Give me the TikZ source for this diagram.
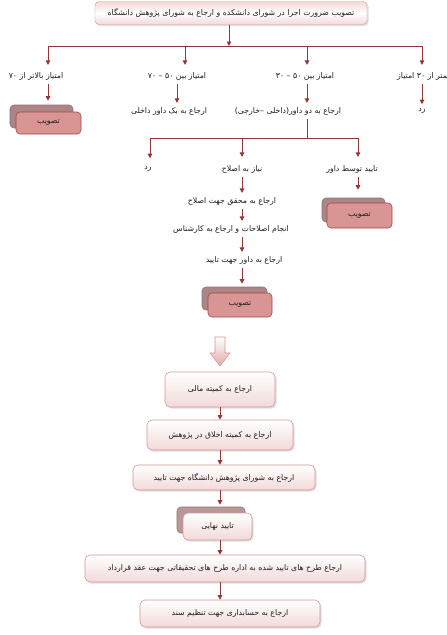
\documentclass[tikz,border=0pt]{standalone}
\usepackage{fontspec}
\TeXXeTstate=1
\newfontfamily\fa[Script=Arabic]{DejaVu Sans}
\usetikzlibrary{shadows,arrows.meta}
\definecolor{linecol}{RGB}{148,54,52}
\definecolor{pinkdark}{RGB}{217,149,148}
\definecolor{boxedge}{RGB}{160,72,70}
\definecolor{shadowbox}{RGB}{172,134,134}
\definecolor{shadowedge}{RGB}{150,112,112}
\definecolor{pinklight}{RGB}{242,217,217}
\definecolor{pinkedge}{RGB}{214,150,150}
\definecolor{textcol}{RGB}{30,30,30}
\begin{document}
\begin{tikzpicture}[x=1pt,y=-1pt,
  ln/.style={draw=linecol,line width=0.8pt},
  arr/.style={ln,-{Triangle[length=4.5pt,width=4.5pt]}},
  txt/.style={font=\fa\fontsize{7.8}{9}\selectfont,text=textcol,inner xsep=1pt,inner ysep=4pt},
  topbox/.style={txt,draw=pinkedge,rounded corners=4pt,top color=pinklight,bottom color=pinklight,middle color=white,
    drop shadow={opacity=0.25,shadow xshift=1.5pt,shadow yshift=-1.5pt}},
  okfront/.style={txt,draw=boxedge,fill=pinkdark,rounded corners=4pt,line width=0.6pt},
  okback/.style={draw=shadowedge,fill=shadowbox,rounded corners=4pt,line width=0.6pt},
  lightbox/.style={txt,draw=pinkedge,rounded corners=5pt,top color=white,bottom color=pinklight,line width=0.6pt,
    drop shadow={opacity=0.25,shadow xshift=1.5pt,shadow yshift=-1.5pt}}
]
\useasboundingbox (0,0) rectangle (447,635);
\fill[white] (0,0) rectangle (447,635);

% top box
\node[topbox,minimum width=272pt,minimum height=23pt] (T) at (231,13) {\beginR تصویب ضرورت اجرا در شورای دانشکده و ارجاع به شورای پژوهش دانشگاه\endR};
\coordinate (hub) at (229,46);
\coordinate (b1) at (48,46);
\coordinate (b2) at (185,46);
\coordinate (b3) at (307,46);
\coordinate (b4) at (422,46);
\draw[arr] (T.south -| hub) -- (hub);
\draw[ln] (b1) -- (b4);

% row 1 labels
\node[txt] (l1) at (36,76) {\beginR امتیاز بالاتر از ۷۰\endR};
\node[txt] (l2) at (177,76) {\beginR امتیاز بین ۵۰ – ۷۰\endR};
\node[txt] (l3) at (305,76) {\beginR امتیاز بین ۵۰ – ۳۰\endR};
\node[txt,anchor=west] (l4) at (396,76) {\beginR کمتر از ۳۰ امتیاز\endR};
\draw[arr,shorten >=3pt] (b1) -- (b1 |- l1.north);
\draw[arr,shorten >=3pt] (b2) -- (b2 |- l2.north);
\draw[arr,shorten >=3pt] (b3) -- (b3 |- l3.north);
\draw[arr,shorten >=3pt] (b4) -- (b4 |- l4.north);

% row 2
\node[okback,minimum width=63pt,minimum height=23pt] (s1) at (41.5,116.5) {};
\node[okfront,minimum width=65pt,minimum height=22pt] (f1) at (48.5,123) {تصویب};
\node[txt] (m2) at (169,111) {\beginR ارجاع به یک داور داخلی\endR};
\node[txt] (m3) at (288,111) {\beginR ارجاع به دو داور(داخلی –خارجی)\endR};
\node[txt] (m4) at (422,111) {رد};
\draw[arr,shorten >=4pt] (l1.south -| b1) -- (b1 |- s1.north);
\draw[arr] (l2.south) -- (l2.south |- m2.north);
\draw[arr] (l3.south -| b3) -- (b3 |- m3.north);
\draw[arr] (l4.south -| b4) -- (b4 |- m4.north);

% split below two referees
\coordinate (c0) at (307,138);
\coordinate (c1) at (150,138);
\coordinate (c2) at (242,138);
\coordinate (c3) at (358,138);
\draw[ln] (m3.south -| c0) -- (c0);
\draw[ln] (c1) -- (c3);

% row 3
\node[txt] (ra) at (148,169) {رد};
\node[txt] (nb) at (242,169) {\beginR نیاز به اصلاح\endR};
\node[txt] (tc) at (352,169) {\beginR تایید توسط داور\endR};
\draw[arr,shorten >=4pt] (c1) -- (c1 |- ra.north);
\draw[arr,shorten >=4pt] (c2) -- (c2 |- nb.north);
\draw[arr,shorten >=4pt] (c3) -- (c3 |- tc.north);

% column: approve by referee
\node[okback,minimum width=63pt,minimum height=24pt] (s3) at (353.5,210) {};
\node[okfront,minimum width=65pt,minimum height=25pt] (f3) at (359.5,215.5) {تصویب};
\draw[arr,shorten >=8pt] (tc.south -| c3) -- (c3 |- s3.north);

% column: needs revision
\node[txt] (rb1) at (232,201) {\beginR ارجاع به محقق جهت اصلاح\endR};
\node[txt] (rb2) at (231,229) {\beginR انجام اصلاحات و ارجاع به کارشناس\endR};
\node[txt] (rb3) at (244,260) {\beginR ارجاع به داور جهت تایید\endR};
\node[okback,minimum width=65pt,minimum height=23pt] (s2) at (234.5,298.5) {};
\node[okfront,minimum width=64pt,minimum height=24pt] (f2) at (240,305) {تصویب};
\draw[arr] (nb.south -| c2) -- (c2 |- rb1.north);
\draw[arr] (rb1.south -| c2) -- (c2 |- rb2.north);
\draw[arr] (rb2.south -| c2) -- (c2 |- rb3.north);
\draw[arr,shorten >=3pt] (rb3.south -| c2) -- (c2 |- s2.north);

% big hollow arrow
\shade[top color=white,bottom color=pinkdark!80,draw=pinkedge,line width=0.6pt]
  (215,337) -- (225,337) -- (225,353) -- (230,353) -- (220,366) -- (210,353) -- (215,353) -- cycle;

% bottom chain
\node[lightbox,minimum width=110pt,minimum height=35pt] (B1) at (220,389.5) {\beginR ارجاع به کمیته مالی\endR};
\node[lightbox,minimum width=146pt,minimum height=30pt] (B2) at (220,435) {\beginR ارجاع به کمیته اخلاق در پژوهش\endR};
\node[lightbox,minimum width=182pt,minimum height=25pt] (B3) at (224,477.5) {\beginR ارجاع به شورای پژوهش دانشگاه جهت تایید\endR};
\node[okback,fill=shadowbox!85,minimum width=68pt,minimum height=26pt] (FS) at (211,520) {};
\node[lightbox,draw=pinkedge,minimum width=69pt,minimum height=27pt] (FF) at (217.5,526.5) {\beginR تایید نهایی\endR};
\node[lightbox,minimum width=280pt,minimum height=27pt] (B5) at (225,568.5) {\beginR ارجاع طرح های تایید شده به اداره طرح های تحقیقاتی جهت عقد قرارداد\endR};
\node[lightbox,minimum width=180pt,minimum height=27pt] (B6) at (230,613.5) {\beginR ارجاع به حسابداری جهت تنظیم سند\endR};
\coordinate (x0) at (220,0);
\draw[arr] (B1.south) -- (B1.south |- B2.north);
\draw[arr] (B2.south) -- (B2.south |- B3.north);
\draw[arr,shorten >=2pt] (B3.south -| x0) -- (x0 |- FS.north);
\draw[arr] (FF.south -| x0) -- (x0 |- B5.north);
\draw[arr] (B5.south -| x0) -- (x0 |- B6.north);
\end{tikzpicture}
\end{document}
